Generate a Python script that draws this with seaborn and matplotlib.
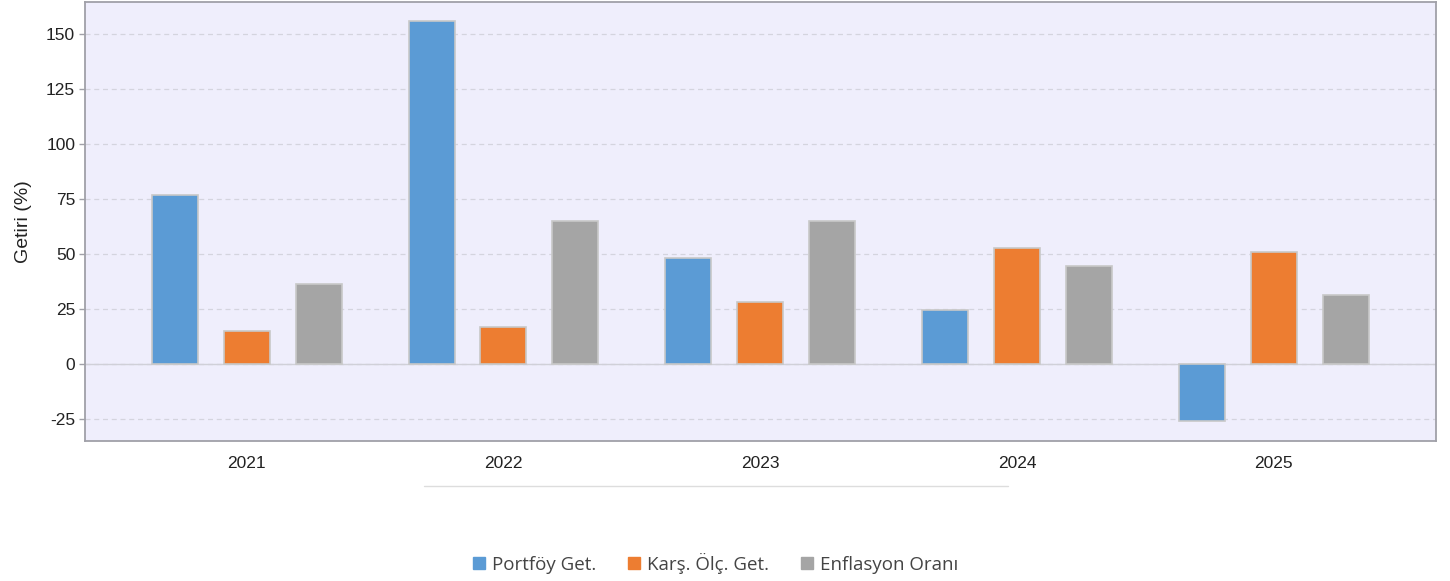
import pandas as pd
import matplotlib
matplotlib.use('Agg')
import matplotlib.pyplot as plt
import seaborn as sns
from matplotlib.lines import Line2D

years = ['2021', '2022', '2023', '2024', '2025']
series = ['Portföy Get.', 'Karş. Ölç. Get.', 'Enflasyon Oranı']
portfoy = [76.8, 155.9, 48.2, 24.5, -26.0]
karsilastirma = [15.0, 16.8, 28.2, 52.7, 51.0]
enflasyon = [36.4, 65.0, 65.0, 44.5, 31.4]
colors = ['#5B9BD5', '#ED7D31', '#A5A5A5']

data = pd.DataFrame({
    'Yıl': years * 3,
    'Seri': [s for s in series for _ in years],
    'Getiri': portfoy + karsilastirma + enflasyon,
})

sns.set_style('white')
plt.rcParams['font.family'] = ['Liberation Sans', 'DejaVu Sans']
plt.rcParams['axes.unicode_minus'] = False

fig = plt.figure(figsize=(14.5, 5.81), dpi=100)
ax = fig.add_axes([0.0586, 0.241, 0.9314, 0.7556])
ax.set_facecolor('#EFEEFC')

sns.barplot(data=data, x='Yıl', y='Getiri', hue='Seri', order=years, hue_order=series,
            palette=colors, width=0.84, gap=0.36, edgecolor='#C8C8C8', linewidth=1.2,
            saturation=1, legend=False, ax=ax, zorder=3)

ax.set_xlim(-0.63, 4.63)
ax.set_ylim(-35, 164.5)
ax.set_yticks([-25, 0, 25, 50, 75, 100, 125, 150])
ax.yaxis.grid(True, color='#D4D4DE', linestyle=(0, (4, 3)), linewidth=0.9, zorder=0)
ax.axhline(0, color='#D0D0D8', linewidth=1, zorder=1)
ax.set_axisbelow(True)

for side, sp in ax.spines.items():
    sp.set_color('#A0A0A8')
    sp.set_linewidth(1.3)

ax.tick_params(axis='y', which='both', left=True, length=4, width=1, color='#A0A0A8',
               labelsize=12.5, labelcolor='#222222', pad=3)
ax.tick_params(axis='x', bottom=False, labelsize=12.5, labelcolor='#222222', pad=7)
ax.set_xlabel('')
ax.set_ylabel('Getiri (%)', fontsize=14, color='#222222', labelpad=10)

# separator line under the axis labels
fig.add_artist(Line2D([424 / 1450, 1008 / 1450], [1 - 486 / 581, 1 - 486 / 581],
                      color='#DDDDDD', linewidth=1))

handles = [Line2D([], [], marker='s', linestyle='', markersize=8, markerfacecolor=c,
                  markeredgecolor=c) for c in colors]
fig.legend(handles, series, loc='center', bbox_to_anchor=(0.491, 0.031), ncol=3,
           frameon=False, handletextpad=0.0, columnspacing=1.3, handlelength=1.4,
           labelcolor='#444444', prop={'family': ['Open Sans', 'DejaVu Sans'], 'size': 13.5})

fig.savefig('out.png', dpi=100)
